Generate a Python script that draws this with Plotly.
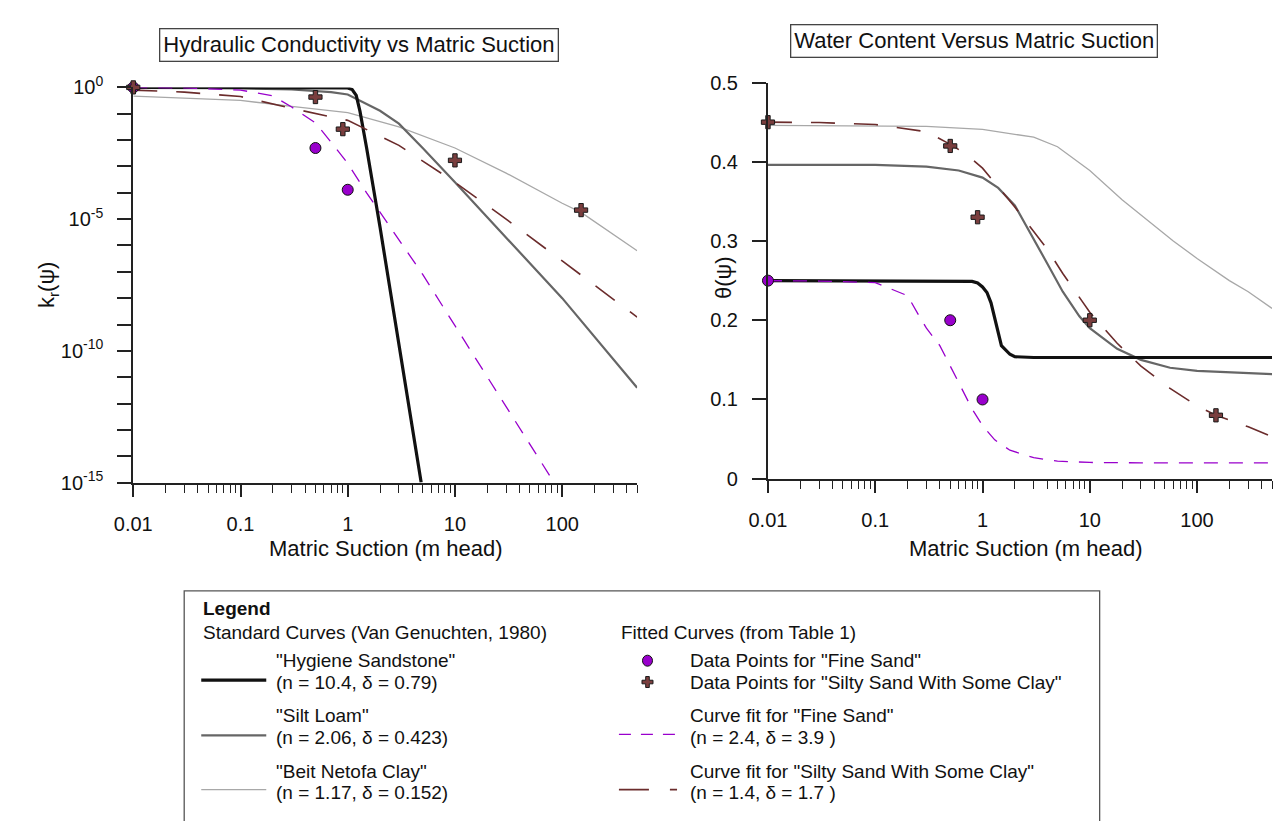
import plotly.graph_objects as go

# ---------------- data ----------------
# Left panel: relative hydraulic conductivity k_r vs matric suction (m head)
hyg_k_x = [0.01, 0.3, 0.7, 0.9, 1.0, 1.1, 1.2, 1.3, 1.5, 2.0, 3.0, 4.84]
hyg_k_y = [1.0, 1.0, 0.98, 0.97, 0.955, 0.83, 0.5, 0.126, 5.0e-3, 5.0e-6, 1.7e-10, 1.0e-15]

silt_k_x = [0.01, 0.1, 0.3, 0.7, 1, 1.5, 2, 3, 5, 10, 30, 100, 500]
silt_k_y = [1.0, 0.93, 0.83, 0.66, 0.54, 0.24, 0.13, 0.042, 5.0e-3, 2.5e-4, 2.0e-6, 1.0e-8, 4.0e-12]

beit_k_x = [0.01, 0.03, 0.1, 0.3, 1, 3, 10, 30, 100, 150, 500]
beit_k_y = [0.47, 0.40, 0.32, 0.19, 0.11, 0.032, 5.0e-3, 5.6e-4, 4.0e-5, 1.8e-5, 6.3e-7]

fine_k_x = [0.01, 0.03, 0.1, 0.2, 0.3, 0.5, 0.7, 1, 1.5, 2, 3, 5, 10, 30, 84]
fine_k_y = [1.0, 0.955, 0.79, 0.48, 0.18, 0.045, 8.3e-3, 1.3e-3, 1.0e-4, 1.8e-5, 1.8e-6, 8.0e-8, 9.0e-10, 8.0e-13, 1.0e-15]

silty_k_x = [0.01, 0.03, 0.1, 0.3, 1, 3, 10, 30, 100, 200, 500]
silty_k_y = [0.79, 0.66, 0.45, 0.16, 0.056, 6.3e-3, 2.5e-4, 1.0e-5, 2.6e-7, 3.2e-8, 1.9e-9]

# Right panel: volumetric water content theta vs matric suction
hyg_t_x = [0.01, 0.5, 0.8, 0.9, 1.0, 1.1, 1.2, 1.5, 1.8, 2.0, 3.0, 500]
hyg_t_y = [0.25, 0.25, 0.249, 0.247, 0.242, 0.235, 0.222, 0.168, 0.157, 0.154, 0.153, 0.153]

silt_t_x = [0.01, 0.1, 0.3, 0.6, 1, 1.4, 2, 2.8, 4, 5.6, 8, 10, 18, 30, 56, 100, 500]
silt_t_y = [0.396, 0.396, 0.394, 0.389, 0.38, 0.367, 0.345, 0.31, 0.272, 0.236, 0.205, 0.19, 0.164, 0.15, 0.14, 0.136, 0.132]

beit_t_x = [0.01, 0.1, 0.3, 1, 3, 5, 10, 20, 30, 60, 100, 200, 300, 500]
beit_t_y = [0.446, 0.4455, 0.4448, 0.441, 0.431, 0.419, 0.389, 0.352, 0.333, 0.30, 0.278, 0.25, 0.236, 0.215]

fine_t_x = [0.01, 0.03, 0.1, 0.15, 0.2, 0.25, 0.3, 0.4, 0.5, 0.6, 0.8, 1.0, 1.3, 1.8, 3, 5, 10, 30, 500]
fine_t_y = [0.25, 0.2495, 0.2475, 0.238, 0.231, 0.208, 0.19, 0.168, 0.142, 0.121, 0.088, 0.067, 0.049, 0.036, 0.0265, 0.0222, 0.0205, 0.02, 0.02]

silty_t_x = [0.01, 0.03, 0.1, 0.3, 0.5, 0.7, 1, 1.5, 2, 3, 4, 5.6, 10, 18, 30, 56, 100, 150, 300, 500]
silty_t_y = [0.45, 0.4495, 0.447, 0.438, 0.422, 0.41, 0.392, 0.364, 0.343, 0.312, 0.29, 0.259, 0.21, 0.171, 0.142, 0.114, 0.092, 0.08, 0.0655, 0.053]

# Measured data points
fine_pts_x = [0.01, 0.5, 1.0]
fine_pts_k = [1.0, 5.0e-3, 1.3e-4]
fine_pts_t = [0.25, 0.2, 0.1]

silty_pts_x = [0.01, 0.5, 0.9, 10, 150]
silty_pts_k = [1.0, 0.43, 0.026, 1.7e-3, 2.2e-5]
silty_pts_t = [0.45, 0.42, 0.33, 0.2, 0.08]

# Tick labels
x_tickvals = [0.01, 0.1, 1, 10, 100]
x_ticktext = ["0.01", "0.1", "1", "10", "100"]
k_tickvals = [1, 1e-5, 1e-10, 1e-15]
k_ticktext = ["10<sup>0</sup>", "10<sup>-5</sup>", "10<sup>-10</sup>", "10<sup>-15</sup>"]
t_tickvals = [0, 0.1, 0.2, 0.3, 0.4, 0.5]
t_ticktext = ["0", "0.1", "0.2", "0.3", "0.4", "0.5"]

# ---------------- styles ----------------
W, H = 1275, 821
FONT = "Liberation Sans, Arial, sans-serif"
AX = "#222222"
C_HYG = "#111111"
C_SILT = "#666666"
C_BEIT = "#a8a8a8"
C_FINE = "#9900cc"
C_SILTY = "#6b2c2c"
C_PLUS = "#7a3e3e"


def px(x):
    return x / W


def py(y):
    return 1 - y / H


minor_x = [m * 10 ** e for e in range(-2, 3) for m in range(2, 10) if m * 10 ** e <= 500]
minor_k = [10.0 ** (-e) for e in range(1, 15) if e % 5 != 0]

fig = go.Figure()

curve_specs = [
    ("x", "y", beit_k_x, beit_k_y, C_BEIT, 1.3, "solid"),
    ("x", "y", silt_k_x, silt_k_y, C_SILT, 2.2, "solid"),
    ("x", "y", hyg_k_x, hyg_k_y, C_HYG, 3.2, "solid"),
    ("x", "y", fine_k_x, fine_k_y, C_FINE, 1.3, "14px,11px"),
    ("x", "y", silty_k_x, silty_k_y, C_SILTY, 1.6, "24px,19px"),
    ("x2", "y2", beit_t_x, beit_t_y, C_BEIT, 1.3, "solid"),
    ("x2", "y2", silt_t_x, silt_t_y, C_SILT, 2.2, "solid"),
    ("x2", "y2", hyg_t_x, hyg_t_y, C_HYG, 3.2, "solid"),
    ("x2", "y2", fine_t_x, fine_t_y, C_FINE, 1.3, "14px,11px"),
    ("x2", "y2", silty_t_x, silty_t_y, C_SILTY, 1.6, "24px,19px"),
]
for xa, ya, xs, ys, col, w, dash in curve_specs:
    fig.add_trace(go.Scatter(x=xs, y=ys, xaxis=xa, yaxis=ya, mode="lines",
                             line=dict(color=col, width=w, dash=dash),
                             hoverinfo="skip", showlegend=False))

circle_marker = dict(symbol="circle", size=11, color=C_FINE, line=dict(color="#111", width=1))
plus_marker = dict(symbol="cross", size=11, color=C_PLUS, line=dict(color="#1a1a1a", width=1))

fig.add_trace(go.Scatter(x=fine_pts_x, y=fine_pts_k, xaxis="x", yaxis="y", mode="markers",
                         marker=circle_marker, cliponaxis=False, showlegend=False))
fig.add_trace(go.Scatter(x=silty_pts_x, y=silty_pts_k, xaxis="x", yaxis="y", mode="markers",
                         marker=plus_marker, cliponaxis=False, showlegend=False))
fig.add_trace(go.Scatter(x=fine_pts_x, y=fine_pts_t, xaxis="x2", yaxis="y2", mode="markers",
                         marker=circle_marker, cliponaxis=False, showlegend=False))
fig.add_trace(go.Scatter(x=silty_pts_x, y=silty_pts_t, xaxis="x2", yaxis="y2", mode="markers",
                         marker=plus_marker, cliponaxis=False, showlegend=False))

tick_font = dict(family=FONT, size=20, color="#111")


def xaxis_cfg(domain, anchor):
    return dict(domain=domain, anchor=anchor, type="log", range=[-2, 2.69897],
                tickmode="array", tickvals=x_tickvals, ticktext=x_ticktext,
                ticks="outside", ticklen=12, tickwidth=1.5, tickcolor=AX,
                showline=True, linecolor=AX, linewidth=2, showgrid=False, zeroline=False,
                tickfont=tick_font, ticklabelstandoff=10,
                minor=dict(tickvals=minor_x, ticks="outside", ticklen=8, tickwidth=1.2,
                           tickcolor=AX, showgrid=False))


fig.update_layout(
    width=W, height=H,
    margin=dict(l=0, r=0, t=0, b=0),
    paper_bgcolor="white", plot_bgcolor="white",
    showlegend=False,
    font=dict(family=FONT, color="#111"),
    xaxis=xaxis_cfg([px(116), px(627.5)], "y"),
    yaxis=dict(domain=[py(483.3), py(75.7)], anchor="x", type="log", range=[-15, 0],
               tickmode="array", tickvals=k_tickvals, ticktext=k_ticktext,
               ticks="outside", ticklen=14, tickwidth=1.5, tickcolor=AX,
               showline=True, linecolor=AX, linewidth=2, showgrid=False, zeroline=False,
               tickfont=tick_font, ticklabelstandoff=10,
               minor=dict(tickvals=minor_k, ticks="outside", ticklen=14, tickwidth=1.5,
                          tickcolor=AX, showgrid=False)),
    xaxis2=xaxis_cfg([px(760.3), px(1272)], "y2"),
    yaxis2=dict(domain=[py(479.3), py(70.7)], anchor="x2", range=[0, 0.5],
                tickmode="array", tickvals=t_tickvals, ticktext=t_ticktext,
                ticks="outside", ticklen=14, tickwidth=1.5, tickcolor=AX,
                showline=True, linecolor=AX, linewidth=2, showgrid=False, zeroline=False,
                tickfont=tick_font, ticklabelstandoff=10),
)

ann = []


def text(x, y, s, size=19, anchor="left", **kw):
    ann.append(dict(x=px(x), y=py(y), xref="paper", yref="paper", text=s, showarrow=False,
                    xanchor=anchor, yanchor="middle", font=dict(family=FONT, size=size, color="#111"), **kw))


# Titles in boxes
text(345, 31.5, "Hydraulic Conductivity vs Matric Suction", size=22, anchor="center",
     bordercolor="#444", borderwidth=1.3, borderpad=3, bgcolor="white")
text(969.5, 28, "Water Content Versus Matric Suction", size=22, anchor="center",
     bordercolor="#444", borderwidth=1.3, borderpad=3, bgcolor="white")

# Axis titles
text(373, 551, "Matric Suction (m head)", size=22, anchor="center")
text(1022, 551, "Matric Suction (m head)", size=22, anchor="center")
text(30, 280, "k<sub>r</sub>(ψ)", size=22, anchor="center", textangle=-90)
text(715, 272, "θ(ψ)", size=22, anchor="center", textangle=-90)

# Legend (custom box)
LF = 19
text(185, 613, "<b>Legend</b>", size=LF)
text(185, 638, "Standard Curves (Van Genuchten, 1980)", size=LF)
text(259, 667, "\"Hygiene Sandstone\"", size=LF)
text(259, 689, "(n = 10.4, δ = 0.79)", size=LF)
text(259, 724, "\"Silt Loam\"", size=LF)
text(259, 746, "(n = 2.06, δ = 0.423)", size=LF)
text(259, 781, "\"Beit Netofa Clay\"", size=LF)
text(259, 803, "(n = 1.17, δ = 0.152)", size=LF)
text(609, 638, "Fitted Curves (from Table 1)", size=LF)
text(679, 667, "Data Points for \"Fine Sand\"", size=LF)
text(679, 689, "Data Points for \"Silty Sand With Some Clay\"", size=LF)
text(679, 724, "Curve fit for \"Fine Sand\"", size=LF)
text(679, 746, "(n = 2.4, δ = 3.9 )", size=LF)
text(679, 781, "Curve fit for \"Silty Sand With Some Clay\"", size=LF)
text(679, 803, "(n = 1.4, δ = 1.7 )", size=LF)

shapes = []
shapes.append(dict(type="rect", xref="paper", yref="paper", x0=px(167.7), x1=px(1097),
                   y0=-0.05, y1=py(595), line=dict(color="#555", width=1.3), fillcolor="rgba(0,0,0,0)"))


def hline(x0, x1, y, col, w, dash="solid"):
    shapes.append(dict(type="line", xref="paper", yref="paper", x0=px(x0), x1=px(x1),
                       y0=py(y), y1=py(y), line=dict(color=col, width=w, dash=dash)))


hline(185, 251, 687, C_HYG, 3.2)
hline(185, 251, 744, C_SILT, 2.2)
hline(185, 251, 800, C_BEIT, 1.3)
hline(609, 668, 743, C_FINE, 1.3, "12px,10px")
hline(609, 668, 800, C_SILTY, 1.6, "30px,21px")

# legend marker samples
shapes.append(dict(type="circle", xref="paper", yref="paper", xsizemode="pixel", ysizemode="pixel",
                   xanchor=px(638), yanchor=py(667), x0=-5, x1=5, y0=-5.5, y1=5.5,
                   fillcolor=C_FINE, line=dict(color="#111", width=1)))
shapes.append(dict(type="path", xref="paper", yref="paper", xsizemode="pixel", ysizemode="pixel",
                   xanchor=px(638), yanchor=py(689),
                   path="M-1.8,-5.5 L1.8,-5.5 L1.8,-1.8 L5.5,-1.8 L5.5,1.8 L1.8,1.8 L1.8,5.5 L-1.8,5.5 L-1.8,1.8 L-5.5,1.8 L-5.5,-1.8 L-1.8,-1.8 Z",
                   fillcolor=C_PLUS, line=dict(color="#1a1a1a", width=1)))

fig.update_layout(annotations=ann, shapes=shapes)

# remove the browser's default 8px page margin so the figure sits at (0, 0); hide the mode bar
fig.write_html("out.html",
               config={"displayModeBar": False},
               post_script="document.body.style.margin='0px';document.body.style.padding='0px';"
                           "document.body.style.overflow='hidden';")
